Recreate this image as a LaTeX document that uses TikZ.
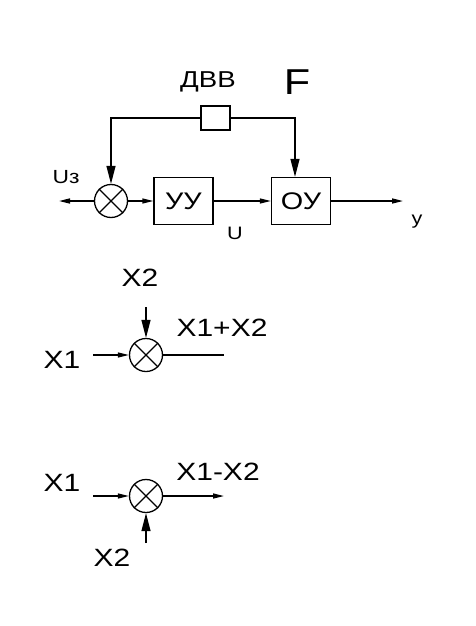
\documentclass[tikz,border=0pt]{standalone}
\usepackage{fontspec}
\setmainfont{Liberation Sans}[FakeStretch=1.2]
\usetikzlibrary{arrows.meta}

\tikzset{
  sumnode/.style={circle,draw,line width=1.3pt,minimum size=33pt,inner sep=0pt},
  blockbox/.style={draw,line width=1.3pt,minimum width=59pt,minimum height=47pt,inner sep=0pt,
    font=\fontsize{24}{28}\selectfont},
  sensbox/.style={draw,line width=1.3pt,minimum width=29pt,minimum height=24pt,inner sep=0pt},
  wire/.style={line width=1.3pt},
  sigline/.style={wire,-{Triangle[length=11pt,width=5pt]}},
  bigline/.style={wire,-{Triangle[length=18pt,width=9pt]}},
  lbl/.style={font=\fontsize{25}{29}\selectfont},
  smlbl/.style={font=\fontsize{18}{22}\selectfont},
}

\begin{document}
\begin{tikzpicture}[x=1pt,y=-1pt]
  \useasboundingbox (0,0) rectangle (476,626);
  % control loop
  \node[sumnode] (s) at (111,201) {};
  \draw[wire] (s.north east) -- (s.south west) (s.north west) -- (s.south east);
  \node[blockbox] (uu) at (183.5,201) {УУ};
  \node[blockbox] (ou) at (301,201) {ОУ};
  \node[sensbox] (dvv) at (215.5,118) {};
  \coordinate (in) at (59,201);
  \coordinate (out) at (403,201);
  \draw[sigline] (s.west) -- (in);
  \draw[sigline] (s.east) -- (uu.west);
  \draw[sigline] (uu.east) -- (ou.west);
  \draw[sigline] (ou.east) -- (out);
  \draw[bigline] (dvv.west) -| (s.north);
  \draw[bigline] (dvv.east) -| ([xshift=-6pt]ou.north);
  \node[font=\fontsize{23}{27}\selectfont] (dvvlbl) at (208,82) {ДВВ};
  \node[font=\fontsize{36}{40}\selectfont] (flbl) at (297,82) {F};
  \node[font=\fontsize{19}{23}\selectfont] (uzlbl) at (66,177) {Uз};
  \node[smlbl] (ulbl) at (235,233) {U};
  \node[smlbl] (ylbl) at (417,222) {y};
  % summing node, plus
  \node[sumnode] (sa) at (146,355) {};
  \draw[wire] (sa.north east) -- (sa.south west) (sa.north west) -- (sa.south east);
  \coordinate (a1) at (93,355);
  \coordinate (a2) at (146,307);
  \coordinate (a3) at (224,355);
  \draw[sigline] (a1) -- (sa);
  \draw[bigline] (a2) -- (sa);
  \draw[wire] (sa) -- (a3);
  \node[lbl] (x2a) at (140,278) {X2};
  \node[lbl] (x1a) at (62,360) {X1};
  \node[lbl] (suma) at (222,328) {X1+X2};
  % summing node, minus
  \node[sumnode] (sb) at (146,496) {};
  \draw[wire] (sb.north east) -- (sb.south west) (sb.north west) -- (sb.south east);
  \coordinate (b1) at (93,496);
  \coordinate (b2) at (146,543);
  \coordinate (b3) at (224,496);
  \draw[sigline] (b1) -- (sb);
  \draw[bigline] (b2) -- (sb);
  \draw[sigline] (sb) -- (b3);
  \node[lbl] (x1b) at (62,483) {X1};
  \node[lbl] (diffb) at (218,472) {X1-X2};
  \node[lbl] (x2b) at (112,558) {X2};
\end{tikzpicture}
\end{document}
